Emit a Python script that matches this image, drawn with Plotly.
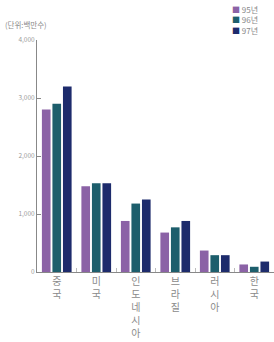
import plotly.graph_objects as go

categories = ["중<br>국", "미<br>국", "인<br>도<br>네<br>시<br>아", "브<br>라<br>질", "러<br>시<br>아", "한<br>국"]
series_names = ["95년", "96년", "97년"]
v95 = [2800, 1480, 880, 680, 370, 130]
v96 = [2900, 1530, 1180, 770, 290, 90]
v97 = [3200, 1530, 1250, 880, 290, 180]
colors = ["#8b62a6", "#1d5e6c", "#1d2b6c"]
y_ticks = [0, 1000, 2000, 3000, 4000]
y_ticktext = ["0", "1,000", "2,000", "3,000", "4,000"]

fig = go.Figure()
for name, vals, c in zip(series_names, [v95, v96, v97], colors):
    fig.add_trace(go.Bar(x=categories, y=vals, name=name, marker=dict(color=c, line=dict(width=0)),
                         showlegend=False))

# legend drawn as one text block (colored square glyph + label per line)
legend_text = "<br>".join(f"<span style='color:{c}'>■</span> {n}" for n, c in zip(series_names, colors))
annotations = [
    dict(text="(단위:백만수)", x=3, y=24, yanchor="middle", showarrow=False,
         font=dict(size=7.5, color="#8a8a8a")),
    dict(text=legend_text, x=230, y=2, yanchor="top", align="left", showarrow=False,
         font=dict(size=8, color="#8a8a8a")),
]

# convert pixel positions to paper coords
W, H = 274, 342
ml, mr, mt, mb = 37, 0, 40, 70
pw, ph = W - ml - mr, H - mt - mb
for a in annotations:
    px, py = a["x"], a["y"]
    a["x"] = (px - ml) / pw
    a["y"] = 1 - (py - mt) / ph
    a["xref"] = "paper"; a["yref"] = "paper"
    a["xanchor"] = "left"

fig.update_layout(
    width=W, height=H,
    margin=dict(l=ml, r=mr, t=mt, b=mb),
    paper_bgcolor="white", plot_bgcolor="white",
    barmode="group", bargap=0.2, bargroupgap=0.18,
    font=dict(family="Noto Sans CJK KR", color="#8a8a8a"),
    annotations=annotations,
)
fig.update_yaxes(range=[0, 4000], tickvals=y_ticks, ticktext=y_ticktext, showgrid=False,
                 showline=True, linecolor="#888", linewidth=1, ticks="inside", ticklen=4,
                 tickcolor="#888", tickfont=dict(size=6.5, color="#9a9a9a"), zeroline=False)
fig.update_xaxes(showline=True, linecolor="#888", linewidth=1, ticks="inside", ticklen=4,
                 tickson="boundaries", tickcolor="#bbb", showgrid=False,
                 tickfont=dict(size=10, color="#8a8a8a"), tickangle=0)

fig.write_html("out.html", config={"displayModeBar": False},
               post_script="document.body.style.margin='0';document.body.style.overflow='hidden';")
